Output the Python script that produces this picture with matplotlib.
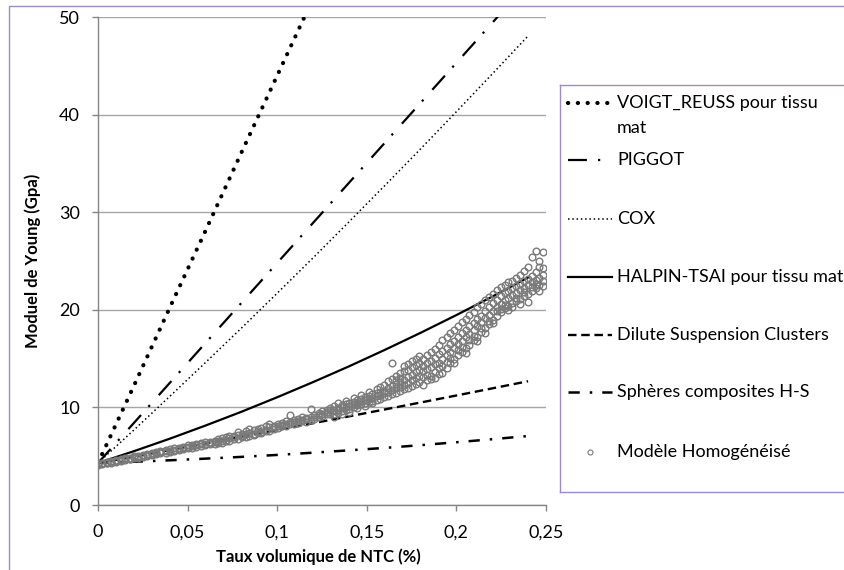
import matplotlib
matplotlib.use('Agg')
import matplotlib.pyplot as plt
from matplotlib.patches import Rectangle

plt.rcParams['font.family'] = ['Lato', 'DejaVu Sans']

# model curves
model_x = [0.0, 0.02, 0.04, 0.06, 0.08, 0.10, 0.12, 0.14, 0.16, 0.18, 0.20, 0.22, 0.24]
voigt_reuss = [4.3, 12.2, 20.2, 28.1, 36.1, 44.0, 51.9, 59.9, 67.8, 75.8, 83.7, 91.6, 99.6]
piggot = [4.3, 8.4, 12.5, 16.6, 20.7, 24.8, 28.9, 33.0, 37.1, 41.2, 45.3, 49.4, 53.5]
cox = [4.3, 7.68, 11.12, 14.6, 18.12, 21.7, 25.32, 29.0, 32.72, 36.48, 40.3, 44.16, 48.06]
halpin_tsai = [4.3, 5.51, 6.79, 8.14, 9.55, 11.04, 12.59, 14.2, 15.89, 17.64, 19.46, 21.35, 23.31]
dilute = [4.3, 4.96, 5.63, 6.31, 6.99, 7.68, 8.38, 9.08, 9.79, 10.5, 11.22, 11.95, 12.68]
spheres_hs = [4.3, 4.43, 4.58, 4.75, 4.93, 5.13, 5.36, 5.6, 5.85, 6.13, 6.43, 6.74, 7.07]

# homogenised model cloud: one x column, several y values each
homog_x = [
    0.0, 0.0023, 0.0051, 0.0074, 0.0098, 0.0126, 0.0149, 0.0177, 0.0201, 0.0224,
    0.0252, 0.0273, 0.0301, 0.0326, 0.0348, 0.0377, 0.0399, 0.0424, 0.0452, 0.0473,
    0.0502, 0.0527, 0.0548, 0.0576, 0.0599, 0.0623, 0.0651, 0.0672, 0.0694,
    0.0712, 0.0731, 0.0758, 0.0779, 0.0801, 0.0826, 0.0843, 0.0871, 0.0894, 0.0912,
    0.0938, 0.0957, 0.0983, 0.1004, 0.1029, 0.1047, 0.1071, 0.1096, 0.1118, 0.1139,
    0.1163, 0.1186, 0.1204, 0.1231, 0.1252, 0.1277, 0.1296,
    0.1318, 0.1337, 0.1359, 0.1382, 0.1401, 0.1426, 0.1444, 0.1468, 0.1489, 0.1513,
    0.1531, 0.1556, 0.1574, 0.1598, 0.1619, 0.1643, 0.1662, 0.1687, 0.1706, 0.1728,
    0.1751, 0.1772, 0.1794,
    0.1815, 0.1838, 0.1856, 0.1879, 0.1903, 0.1921, 0.1946, 0.1964, 0.1988, 0.2009,
    0.2031, 0.2054, 0.2072, 0.2097, 0.2116, 0.2139, 0.2161, 0.2183, 0.2204, 0.2228,
    0.2247, 0.2271, 0.2289, 0.2313, 0.2334, 0.2356, 0.2377, 0.2398, 0.2421, 0.2443,
    0.2462, 0.2481,
]
homog_y = [
    [4.1, 4.2, 4.3], [4.2, 4.3, 4.35], [4.3, 4.35, 4.45], [4.35, 4.45, 4.55], [4.45, 4.55, 4.65],
    [4.5, 4.6, 4.7], [4.6, 4.7, 4.8], [4.7, 4.75, 4.85], [4.8, 4.9, 5.0], [4.85, 4.95, 5.05],
    [4.95, 5.05, 5.15], [5.0, 5.1, 5.25], [5.1, 5.2, 5.35], [5.2, 5.3, 5.4], [5.3, 5.4, 5.5],
    [5.35, 5.5, 5.6], [5.45, 5.55, 5.7], [5.5, 5.65, 5.8], [5.6, 5.75, 5.85], [5.7, 5.8, 5.95],
    [5.8, 5.95, 6.1], [5.85, 6.0, 6.15], [5.95, 6.1, 6.3], [6.0, 6.2, 6.35], [6.1, 6.3, 6.45],
    [6.2, 6.35, 6.5], [6.25, 6.45, 6.6], [6.35, 6.55, 6.75], [6.4, 6.6, 6.85],
    [6.55, 6.95, 6.7], [6.9, 6.6, 7.05], [6.75, 7.1, 6.95], [7.2, 6.8, 7.45],
    [6.95, 7.3, 7.1], [7.0, 7.55, 7.25], [7.35, 7.1, 7.75], [7.3, 7.65, 7.15],
    [7.8, 7.4, 7.6], [7.5, 7.9, 7.35], [7.7, 8.05, 7.55], [7.95, 7.6, 8.25],
    [8.1, 7.75, 7.95], [7.9, 8.3, 8.1], [8.45, 8.05, 8.2], [8.1, 8.35, 8.6],
    [8.5, 9.2, 8.3], [8.35, 8.7, 8.55], [8.8, 8.45, 8.65], [8.6, 9.0, 8.75],
    [8.95, 8.5, 8.8], [8.75, 9.8, 9.05], [9.2, 8.8, 9.0], [9.0, 9.45, 9.25],
    [9.6, 9.1, 9.35], [9.3, 9.75, 9.5], [9.7, 9.35, 9.9],
    [9.3, 10.1, 9.7, 9.0], [9.9, 9.45, 10.4, 9.7], [9.6, 10.2, 9.35, 10.0],
    [10.3, 9.7, 10.05, 10.7], [9.8, 10.5, 10.15, 9.55], [10.6, 10.0, 10.35, 11.0],
    [10.2, 10.8, 9.9, 10.5], [10.9, 10.3, 10.65, 11.3], [10.4, 11.1, 10.75, 10.1],
    [11.2, 10.55, 10.9, 11.6], [10.7, 11.4, 10.95, 10.4], [11.5, 10.8, 11.15, 11.9],
    [10.9, 11.6, 11.3, 12.1], [11.7, 11.05, 11.45, 12.3], [11.2, 12.0, 11.6, 12.7],
    [12.2, 11.4, 11.8, 14.6, 12.9], [11.5, 12.4, 11.95, 13.2, 12.8],
    [12.6, 11.7, 12.1, 13.5, 13.0], [11.9, 12.8, 12.3, 13.7, 14.2],
    [13.1, 12.0, 12.55, 13.8, 14.4], [12.2, 13.3, 12.8, 14.1, 14.8],
    [13.6, 12.4, 13.0, 14.3, 15.0], [12.6, 13.8, 13.25, 14.6, 15.3],
    [12.3, 14.2, 13.1, 15.0, 13.7], [14.5, 12.8, 13.9, 15.4, 13.3],
    [13.2, 14.8, 14.1, 12.9, 15.7], [15.1, 13.6, 14.4, 16.0, 13.0],
    [13.4, 15.5, 14.6, 16.4, 14.0], [15.8, 14.2, 13.5, 15.0, 16.9],
    [14.0, 16.1, 15.4, 17.2, 14.7], [16.5, 14.6, 15.7, 17.6, 15.1],
    [15.0, 16.8, 16.1, 17.9, 14.5], [17.2, 15.4, 16.5, 18.3, 15.9],
    [15.7, 17.6, 16.8, 18.7, 16.2], [17.9, 16.1, 17.2, 19.1, 15.6],
    [16.4, 18.3, 17.5, 19.5, 16.9], [18.6, 16.9, 17.9, 19.8, 17.3],
    [17.2, 19.1, 18.3, 20.3, 16.8], [19.4, 17.7, 18.8, 20.6, 18.1],
    [18.1, 19.9, 19.2, 21.0, 17.6], [20.3, 18.5, 19.5, 21.3, 18.9],
    [19.0, 20.7, 19.9, 21.6, 18.6], [21.0, 19.4, 20.3, 22.0, 19.9],
    [19.8, 21.4, 20.6, 22.3, 20.1], [21.7, 20.2, 21.0, 22.5, 20.5],
    [20.4, 21.9, 21.2, 22.8, 20.0], [22.2, 20.7, 21.5, 23.0, 20.3],
    [20.9, 22.4, 21.7, 23.3, 21.2], [22.6, 21.1, 22.0, 23.6, 20.6],
    [21.4, 22.9, 22.2, 24.0, 21.8], [23.2, 21.6, 22.5, 24.4, 20.8],
    [21.9, 23.5, 22.8, 25.4, 22.3], [23.9, 22.2, 23.1, 26.0, 22.6],
    [22.5, 24.4, 23.3, 25.0, 21.9], [23.0, 25.9, 23.6, 22.4, 24.3],
]

x_ticks = [0, 0.05, 0.1, 0.15, 0.2, 0.25]
x_tick_labels = ['0', '0,05', '0,1', '0,15', '0,2', '0,25']
y_ticks = [0, 10, 20, 30, 40, 50]

labels = [
    'VOIGT_REUSS pour tissu\nmat',
    'PIGGOT',
    'COX',
    'HALPIN-TSAI pour tissu mat',
    'Dilute Suspension Clusters',
    'Sphères composites H-S',
    'Modèle Homogénéisé',
]

W, H = 844, 570
AX_GRAY = '#868686'
GRID_GRAY = '#a6a6a6'
PURPLE = '#9d8bc4'
PT_GRAY = '#7a7a7a'

styles = [
    dict(color='black', lw=3.0, linestyle=(0, (0.05, 2.3)), dash_capstyle='round'),
    dict(color='black', lw=1.6, linestyle=(0, (8.5, 5, 1, 6))),
    dict(color='black', lw=1.1, linestyle=(0, (1, 1.8))),
    dict(color='black', lw=1.6, linestyle='-'),
    dict(color='black', lw=1.7, linestyle=(0, (3.6, 2.0))),
    dict(color='black', lw=1.8, linestyle=(0, (4.5, 4, 1, 4))),
]
curves = [voigt_reuss, piggot, cox, halpin_tsai, dilute, spheres_hs]

fig = plt.figure(figsize=(W / 100, H / 100), dpi=100)

# outer chart frame
fig.patches.append(Rectangle((9 / W, -0.05), 1.0, 1 - 6 / H + 0.05, transform=fig.transFigure,
                             fill=False, edgecolor=PURPLE, lw=1.0))

ax = fig.add_axes([98 / W, 65 / H, 448 / W, 488 / H])
for vals, st in zip(curves, styles):
    ax.plot(model_x, vals, **st)

pts_x = [x for x, col in zip(homog_x, homog_y) for _ in col]
pts_y = [y for col in homog_y for y in col]
ax.plot(pts_x, pts_y, linestyle='none', marker='o', markersize=4.8,
        markerfacecolor='none', markeredgecolor=PT_GRAY, markeredgewidth=1.0)

ax.set_xlim(0, 0.25)
ax.set_ylim(0, 50)
ax.set_xticks(x_ticks)
ax.set_xticklabels(x_tick_labels)
ax.set_yticks(y_ticks)
ax.grid(True, axis='y', color=GRID_GRAY, lw=1.0)
ax.set_axisbelow(True)
for side in ['top', 'right']:
    ax.spines[side].set_visible(False)
for side in ['left', 'bottom']:
    ax.spines[side].set_color(AX_GRAY)
    ax.spines[side].set_linewidth(1.0)
ax.tick_params(axis='both', direction='out', length=4, width=1.0, color=AX_GRAY,
               labelsize=13, labelcolor='black')
ax.tick_params(axis='y', pad=9)
ax.tick_params(axis='x', pad=10)

fig.text(33 / W, 1 - 261 / H, 'Moduel de Young (Gpa)', rotation=90, ha='center', va='center',
         fontsize=12, fontweight='bold')
fig.text(318 / W, 1 - 557 / H, 'Taux volumique de NTC (%)', ha='center', va='center',
         fontsize=12, fontweight='bold')

# legend panel, drawn in pixel coordinates
lax = fig.add_axes([560 / W, (H - 492) / H, 300 / W, 407 / H])
lax.set_xlim(560, 860)
lax.set_ylim(492, 85)
lax.set_xticks([])
lax.set_yticks([])
for sp in lax.spines.values():
    sp.set_color(PURPLE)
    sp.set_linewidth(1.0)

row_y = [103, 160, 219, 277, 335, 392]
for y, st, lab in zip(row_y, styles, labels):
    lax.plot([568, 612], [y, y], **st)
    lax.text(617, y, lab.split('\n')[0], ha='left', va='center', fontsize=13)
lax.text(617, 128, labels[0].split('\n')[1], ha='left', va='center', fontsize=13)
lax.plot([590], [452], linestyle='none', marker='o', markersize=3.6,
         markerfacecolor='none', markeredgecolor=PT_GRAY, markeredgewidth=0.8)
lax.text(617, 452, labels[6], ha='left', va='center', fontsize=13)

fig.savefig('out.png', dpi=100)
